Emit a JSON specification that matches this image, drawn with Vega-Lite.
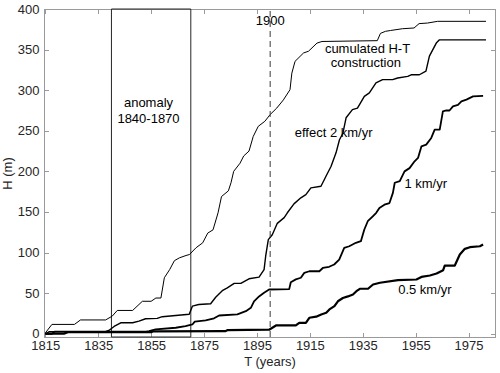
{
  "$schema": "https://vega.github.io/schema/vega-lite/v6.json",
  "autosize": {"type": "none"},
  "padding": {"left": 44, "top": 9, "right": 5, "bottom": 36},
  "width": 451,
  "height": 328,
  "background": "white",
  "config": {
    "view": {"stroke": "#9a9a9a", "strokeWidth": 1},
    "font": "Liberation Sans",
    "axis": {"grid": false, "labelFont": "Liberation Sans", "titleFont": "Liberation Sans", "labelFontSize": 13, "titleFontSize": 13, "titleFontWeight": "normal", "labelColor": "#262626", "titleColor": "#262626", "domainColor": "#9a9a9a", "tickColor": "#9a9a9a", "tickSize": -4.5}
  },
  "datasets": {
    "curves": [
      {"s":"ht","x":1815,"y":1},{"s":"ht","x":1817.5,"y":11.5},{"s":"ht","x":1826,"y":11.5},{"s":"ht","x":1828.3,"y":17},{"s":"ht","x":1837.8,"y":17},{"s":"ht","x":1840.3,"y":21.7},{"s":"ht","x":1842.2,"y":28.7},{"s":"ht","x":1848,"y":28.7},{"s":"ht","x":1851.7,"y":40},{"s":"ht","x":1855,"y":40},{"s":"ht","x":1856.8,"y":44},{"s":"ht","x":1858.7,"y":44},{"s":"ht","x":1860,"y":69},{"s":"ht","x":1862,"y":79},{"s":"ht","x":1863.8,"y":90},{"s":"ht","x":1865.7,"y":93.5},{"s":"ht","x":1868.2,"y":96.4},{"s":"ht","x":1869.5,"y":97.6},{"s":"ht","x":1872,"y":106},{"s":"ht","x":1874.5,"y":112},{"s":"ht","x":1876.4,"y":124},{"s":"ht","x":1878.4,"y":128},{"s":"ht","x":1880.3,"y":149},{"s":"ht","x":1881.6,"y":169},{"s":"ht","x":1884.2,"y":176},{"s":"ht","x":1885.2,"y":186},{"s":"ht","x":1886.2,"y":200},{"s":"ht","x":1888.6,"y":210},{"s":"ht","x":1890,"y":219},{"s":"ht","x":1892,"y":225},{"s":"ht","x":1893.6,"y":243},{"s":"ht","x":1895.5,"y":255.5},{"s":"ht","x":1898,"y":261.7},{"s":"ht","x":1900,"y":270},{"s":"ht","x":1902.5,"y":278},{"s":"ht","x":1905,"y":288},{"s":"ht","x":1907.5,"y":300.6},{"s":"ht","x":1908.2,"y":321},{"s":"ht","x":1909.4,"y":335.5},{"s":"ht","x":1911.3,"y":341.6},{"s":"ht","x":1912.6,"y":345.8},{"s":"ht","x":1914.5,"y":348},{"s":"ht","x":1917.7,"y":358},{"s":"ht","x":1919.6,"y":360},{"s":"ht","x":1940.5,"y":361},{"s":"ht","x":1941.7,"y":370},{"s":"ht","x":1943.6,"y":372.5},{"s":"ht","x":1945.5,"y":373.5},{"s":"ht","x":1950,"y":375.7},{"s":"ht","x":1954.4,"y":376.6},{"s":"ht","x":1956.3,"y":382},{"s":"ht","x":1959.5,"y":382.7},{"s":"ht","x":1963.3,"y":384.8},{"s":"ht","x":1981.6,"y":384.8},
      {"s":"k2","x":1815,"y":0},{"s":"k2","x":1816.5,"y":2.5},{"s":"k2","x":1837.7,"y":2.5},{"s":"k2","x":1839,"y":4},{"s":"k2","x":1841,"y":9},{"s":"k2","x":1843.5,"y":13.5},{"s":"k2","x":1848,"y":13.5},{"s":"k2","x":1850.4,"y":15.5},{"s":"k2","x":1852.9,"y":18.5},{"s":"k2","x":1857.3,"y":19},{"s":"k2","x":1859.2,"y":21},{"s":"k2","x":1864.3,"y":22.5},{"s":"k2","x":1869.4,"y":24},{"s":"k2","x":1870.6,"y":34},{"s":"k2","x":1873,"y":36},{"s":"k2","x":1877.5,"y":37},{"s":"k2","x":1879.4,"y":45},{"s":"k2","x":1881.9,"y":53},{"s":"k2","x":1883.8,"y":56.6},{"s":"k2","x":1886.4,"y":62},{"s":"k2","x":1888.9,"y":62},{"s":"k2","x":1892,"y":67.7},{"s":"k2","x":1895.8,"y":69.7},{"s":"k2","x":1897.7,"y":79},{"s":"k2","x":1898.3,"y":95.5},{"s":"k2","x":1899.3,"y":116},{"s":"k2","x":1900.8,"y":122},{"s":"k2","x":1902.7,"y":136},{"s":"k2","x":1905.3,"y":143},{"s":"k2","x":1906.5,"y":149},{"s":"k2","x":1909,"y":160},{"s":"k2","x":1911.6,"y":167.4},{"s":"k2","x":1913.5,"y":171.4},{"s":"k2","x":1915.4,"y":179.7},{"s":"k2","x":1919.2,"y":181.7},{"s":"k2","x":1920.5,"y":190},{"s":"k2","x":1921.1,"y":194},{"s":"k2","x":1923,"y":206},{"s":"k2","x":1924.9,"y":222.8},{"s":"k2","x":1926.2,"y":239},{"s":"k2","x":1927.5,"y":247},{"s":"k2","x":1928.7,"y":266},{"s":"k2","x":1931.1,"y":276},{"s":"k2","x":1933,"y":278},{"s":"k2","x":1935.6,"y":292.4},{"s":"k2","x":1937.5,"y":296.6},{"s":"k2","x":1940,"y":309},{"s":"k2","x":1942.5,"y":313},{"s":"k2","x":1946.3,"y":313},{"s":"k2","x":1948.2,"y":315},{"s":"k2","x":1952,"y":317},{"s":"k2","x":1953.3,"y":319},{"s":"k2","x":1956.4,"y":319},{"s":"k2","x":1958.9,"y":323.5},{"s":"k2","x":1960.2,"y":342},{"s":"k2","x":1961.5,"y":350},{"s":"k2","x":1962.8,"y":358},{"s":"k2","x":1964,"y":362},{"s":"k2","x":1981.6,"y":362},
      {"s":"k1","x":1815,"y":0},{"s":"k1","x":1817.5,"y":0},{"s":"k1","x":1818.5,"y":2.5},{"s":"k1","x":1853,"y":2.5},{"s":"k1","x":1854.2,"y":3.2},{"s":"k1","x":1856.7,"y":5.3},{"s":"k1","x":1864.3,"y":7.4},{"s":"k1","x":1868,"y":9.4},{"s":"k1","x":1870.6,"y":11.4},{"s":"k1","x":1871.5,"y":15},{"s":"k1","x":1875.6,"y":16.5},{"s":"k1","x":1878.8,"y":19},{"s":"k1","x":1880.7,"y":22.5},{"s":"k1","x":1887.6,"y":23.8},{"s":"k1","x":1890.8,"y":27.8},{"s":"k1","x":1892.7,"y":32},{"s":"k1","x":1893.9,"y":40},{"s":"k1","x":1895.8,"y":46},{"s":"k1","x":1897.7,"y":50.5},{"s":"k1","x":1899.6,"y":54.5},{"s":"k1","x":1907.2,"y":55},{"s":"k1","x":1907.8,"y":63.5},{"s":"k1","x":1909.7,"y":67},{"s":"k1","x":1911.6,"y":69},{"s":"k1","x":1912.9,"y":75},{"s":"k1","x":1914.8,"y":77},{"s":"k1","x":1918.6,"y":77},{"s":"k1","x":1919.9,"y":81},{"s":"k1","x":1922.3,"y":82.5},{"s":"k1","x":1924.2,"y":85.3},{"s":"k1","x":1926.1,"y":91.4},{"s":"k1","x":1928,"y":105.8},{"s":"k1","x":1929.9,"y":107.8},{"s":"k1","x":1932.4,"y":112},{"s":"k1","x":1934.3,"y":114},{"s":"k1","x":1935.6,"y":128.4},{"s":"k1","x":1936.9,"y":138.6},{"s":"k1","x":1938.8,"y":144.7},{"s":"k1","x":1940.1,"y":149},{"s":"k1","x":1941.3,"y":155},{"s":"k1","x":1943.2,"y":159},{"s":"k1","x":1945.1,"y":161},{"s":"k1","x":1946.4,"y":173.5},{"s":"k1","x":1947.1,"y":186},{"s":"k1","x":1949,"y":188},{"s":"k1","x":1950.8,"y":200},{"s":"k1","x":1952.7,"y":204},{"s":"k1","x":1954.6,"y":212.4},{"s":"k1","x":1955.9,"y":216.6},{"s":"k1","x":1957.2,"y":230.9},{"s":"k1","x":1959,"y":233},{"s":"k1","x":1960.9,"y":241.2},{"s":"k1","x":1962.2,"y":251.4},{"s":"k1","x":1964.1,"y":251.4},{"s":"k1","x":1965.3,"y":274},{"s":"k1","x":1966.6,"y":275},{"s":"k1","x":1967.8,"y":275},{"s":"k1","x":1969.1,"y":280},{"s":"k1","x":1971,"y":282},{"s":"k1","x":1972.3,"y":286.3},{"s":"k1","x":1974.2,"y":288.4},{"s":"k1","x":1976.7,"y":292.4},{"s":"k1","x":1980.5,"y":293},
      {"s":"k05","x":1815,"y":0},{"s":"k05","x":1822,"y":0},{"s":"k05","x":1823.5,"y":2},{"s":"k05","x":1855,"y":2},{"s":"k05","x":1856,"y":3},{"s":"k05","x":1883,"y":3.2},{"s":"k05","x":1883.8,"y":4.4},{"s":"k05","x":1899.6,"y":5},{"s":"k05","x":1902.2,"y":10.2},{"s":"k05","x":1909.7,"y":10.2},{"s":"k05","x":1911,"y":13.5},{"s":"k05","x":1913.5,"y":13.5},{"s":"k05","x":1914.8,"y":19.7},{"s":"k05","x":1917.4,"y":21},{"s":"k05","x":1919.3,"y":23.8},{"s":"k05","x":1921.2,"y":25.8},{"s":"k05","x":1922.4,"y":30},{"s":"k05","x":1924.3,"y":34},{"s":"k05","x":1925.6,"y":40},{"s":"k05","x":1927.5,"y":44},{"s":"k05","x":1929.4,"y":46},{"s":"k05","x":1931.3,"y":48.4},{"s":"k05","x":1932.6,"y":52.4},{"s":"k05","x":1933.9,"y":55.4},{"s":"k05","x":1937,"y":55.4},{"s":"k05","x":1938.9,"y":60.7},{"s":"k05","x":1941.5,"y":62.8},{"s":"k05","x":1948.3,"y":66},{"s":"k05","x":1955.3,"y":66.8},{"s":"k05","x":1957.2,"y":70},{"s":"k05","x":1960.4,"y":71.8},{"s":"k05","x":1962.9,"y":74.2},{"s":"k05","x":1965.4,"y":78.3},{"s":"k05","x":1966,"y":84},{"s":"k05","x":1969.8,"y":84},{"s":"k05","x":1971.7,"y":97.6},{"s":"k05","x":1973.6,"y":104.6},{"s":"k05","x":1975.5,"y":106.6},{"s":"k05","x":1979.3,"y":107.8},{"s":"k05","x":1980.5,"y":110}
    ],
    "box": [{"x1": 1840, "x2": 1870, "y1": -4, "y2": 400}],
    "marker": [{"x": 1900, "y1": -4, "y2": 400}],
    "labels": [
      {"t": "anomaly", "x": 1854, "y": 284},
      {"t": "1840-1870", "x": 1854, "y": 264.5},
      {"t": "1900", "x": 1900, "y": 385},
      {"t": "cumulated H-T", "x": 1936.8, "y": 351},
      {"t": "construction", "x": 1936.2, "y": 333.5},
      {"t": "effect 2 km/yr", "x": 1924, "y": 247.4},
      {"t": "1 km/yr", "x": 1958.8, "y": 184},
      {"t": "0.5 km/yr", "x": 1958.5, "y": 54}
    ]
  },
  "resolve": {"axis": {"x": "independent", "y": "independent"}},
  "layer": [
    {
      "data": {"name": "box"},
      "mark": {"type": "rect", "fill": "transparent", "stroke": "#262626", "strokeWidth": 1},
      "encoding": {
        "x": {"field": "x1", "type": "quantitative", "scale": {"domain": [1814.5, 1985], "nice": false, "zero": false},
              "axis": {"orient": "bottom", "title": "T (years)", "values": [1815,1835,1855,1875,1895,1915,1935,1955,1975], "format": "d", "labelPadding": 7, "titleX": 225.5, "titleY": 24.5, "titleBaseline": "middle", "titleAlign": "center"}},
        "x2": {"field": "x2"},
        "y": {"field": "y1", "type": "quantitative", "scale": {"domain": [-4, 400], "nice": false, "zero": false},
              "axis": {"orient": "left", "title": "H (m)", "values": [0,50,100,150,200,250,300,350,400], "labelPadding": 9.5, "titleX": -37, "titleY": 164, "titleBaseline": "middle", "titleAlign": "center", "titleAngle": -90}},
        "y2": {"field": "y2"}
      }
    },
    {
      "data": {"name": "curves"},
      "mark": {"type": "line", "strokeJoin": "round", "strokeCap": "butt"},
      "encoding": {
        "x": {"field": "x", "type": "quantitative", "scale": {"domain": [1814.5, 1985], "nice": false, "zero": false}, "axis": null},
        "y": {"field": "y", "type": "quantitative", "scale": {"domain": [-4, 400], "nice": false, "zero": false}, "axis": null},
        "detail": {"field": "s"},
        "color": {"value": "#000000"},
        "strokeWidth": {"field": "s", "type": "nominal", "scale": {"domain": ["ht", "k2", "k1", "k05"], "range": [1, 2.2, 2.2, 2.2]}, "legend": null}
      }
    },
    {
      "data": {"name": "marker"},
      "mark": {"type": "rule", "stroke": "#3a3a3a", "strokeWidth": 1, "strokeDash": [6, 4]},
      "encoding": {
        "x": {"field": "x", "type": "quantitative", "scale": {"domain": [1814.5, 1985], "nice": false, "zero": false}, "axis": null},
        "y": {"field": "y1", "type": "quantitative", "scale": {"domain": [-4, 400], "nice": false, "zero": false}, "axis": null},
        "y2": {"field": "y2"}
      }
    },
    {
      "data": {"name": "labels"},
      "mark": {"type": "text", "font": "Liberation Sans", "fontSize": 13, "align": "center", "baseline": "middle", "color": "#000000"},
      "encoding": {
        "x": {"field": "x", "type": "quantitative", "scale": {"domain": [1814.5, 1985], "nice": false, "zero": false}, "axis": null},
        "y": {"field": "y", "type": "quantitative", "scale": {"domain": [-4, 400], "nice": false, "zero": false}, "axis": null},
        "text": {"field": "t"}
      }
    },
    {
      "data": {"name": "box"},
      "mark": {"type": "rect", "opacity": 0},
      "encoding": {
        "x": {"field": "x1", "type": "quantitative", "scale": {"domain": [1814.5, 1985], "nice": false, "zero": false},
              "axis": {"orient": "top", "title": null, "labels": false, "values": [1815,1835,1855,1875,1895,1915,1935,1955,1975]}},
        "x2": {"field": "x2"},
        "y": {"field": "y1", "type": "quantitative", "scale": {"domain": [-4, 400], "nice": false, "zero": false},
              "axis": {"orient": "right", "title": null, "labels": false, "values": [0,50,100,150,200,250,300,350,400]}},
        "y2": {"field": "y2"}
      }
    }
  ]
}
